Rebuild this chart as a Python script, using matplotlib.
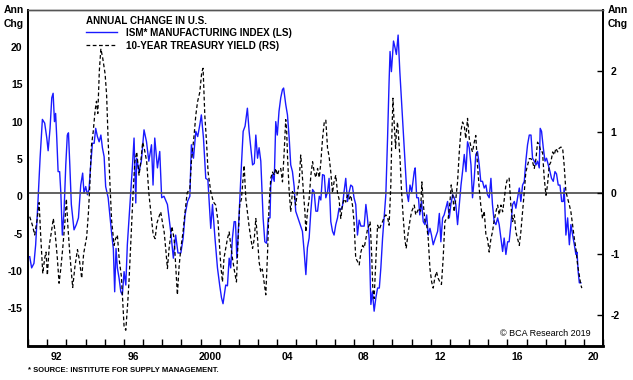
import matplotlib
matplotlib.use("Agg")
import matplotlib.pyplot as plt
from matplotlib.lines import Line2D

plt.rcParams['font.family'] = ['Liberation Sans', 'DejaVu Sans']

# ISM manufacturing index, annual change (left scale)
ism_t = [1991.09, 1991.19, 1991.31, 1991.40, 1991.52, 1991.63, 1991.75, 1991.87, 1991.98, 1992.05,
         1992.15, 1992.24, 1992.31, 1992.38, 1992.44, 1992.50, 1992.57, 1992.65, 1992.71, 1992.79,
         1992.88, 1992.97, 1993.05, 1993.11, 1993.18, 1993.26, 1993.40, 1993.52, 1993.63, 1993.75,
         1993.85, 1993.92, 1994.01, 1994.10, 1994.18, 1994.27, 1994.36, 1994.45, 1994.53, 1994.62,
         1994.71, 1994.80, 1994.88, 1994.97, 1995.05, 1995.11, 1995.18, 1995.28, 1995.37, 1995.45,
         1995.52, 1995.59, 1995.66, 1995.75, 1995.84, 1995.92, 1996.01, 1996.10, 1996.18, 1996.27,
         1996.32, 1996.45, 1996.53, 1996.62, 1996.67, 1996.79, 1996.91, 1997.05, 1997.18, 1997.30,
         1997.44, 1997.52, 1997.61, 1997.75, 1997.87, 1997.97, 1998.09, 1998.27, 1998.44, 1998.58,
         1998.70, 1998.82, 1998.97, 1999.09, 1999.19, 1999.32, 1999.44, 1999.52, 1999.63, 1999.75,
         1999.85, 1999.96, 2000.04, 2000.15, 2000.27, 2000.38, 2000.53, 2000.62, 2000.75, 2000.88,
         2001.00, 2001.09, 2001.17, 2001.31, 2001.40, 2001.49, 2001.57, 2001.66, 2001.75, 2001.82,
         2001.89, 2001.95, 2002.04, 2002.13, 2002.22, 2002.32, 2002.44, 2002.53, 2002.71, 2002.80,
         2002.88, 2002.97, 2003.05, 2003.14, 2003.26, 2003.35, 2003.44, 2003.53, 2003.62, 2003.66,
         2003.75, 2003.84, 2003.92, 2004.00, 2004.09, 2004.18, 2004.27, 2004.33, 2004.44, 2004.53,
         2004.62, 2004.70, 2004.79, 2004.88, 2004.96, 2005.14, 2005.31, 2005.40, 2005.49, 2005.57,
         2005.66, 2005.75, 2005.84, 2005.92, 2006.01, 2006.10, 2006.19, 2006.27, 2006.36, 2006.45,
         2006.53, 2006.62, 2006.70, 2006.79, 2006.88, 2006.96, 2007.05, 2007.14, 2007.22, 2007.31,
         2007.40, 2007.48, 2007.57, 2007.66, 2007.75, 2007.83, 2007.92, 2008.00, 2008.09, 2008.18,
         2008.27, 2008.36, 2008.45, 2008.53, 2008.62, 2008.70, 2008.79, 2008.88, 2008.96, 2009.05,
         2009.14, 2009.23, 2009.32, 2009.40, 2009.49, 2009.57, 2009.66, 2009.75, 2009.83, 2009.88,
         2009.95, 2010.06, 2010.14, 2010.21, 2010.30, 2010.39, 2010.53, 2010.65, 2010.75, 2010.84,
         2010.92, 2011.01, 2011.14, 2011.19, 2011.27, 2011.36, 2011.43, 2011.52, 2011.61, 2011.70,
         2011.79, 2011.87, 2011.96, 2012.04, 2012.13, 2012.24, 2012.36, 2012.45, 2012.53, 2012.62,
         2012.70, 2012.79, 2012.88, 2012.97, 2013.05, 2013.14, 2013.23, 2013.31, 2013.40, 2013.49,
         2013.58, 2013.66, 2013.75, 2013.84, 2013.92, 2014.01, 2014.10, 2014.18, 2014.27, 2014.35,
         2014.44, 2014.53, 2014.61, 2014.70, 2014.79, 2014.88, 2014.96, 2015.05, 2015.14, 2015.22,
         2015.31, 2015.40, 2015.49, 2015.57, 2015.66, 2015.75, 2015.83, 2015.92, 2016.01, 2016.09,
         2016.18, 2016.27, 2016.36, 2016.44, 2016.53, 2016.62, 2016.70, 2016.79, 2016.88, 2016.96,
         2017.05, 2017.14, 2017.23, 2017.31, 2017.40, 2017.49, 2017.57, 2017.66, 2017.71, 2017.78,
         2017.87, 2017.96, 2018.04, 2018.13, 2018.22, 2018.30, 2018.39, 2018.48, 2018.56, 2018.65,
         2018.74, 2018.83, 2018.91, 2018.96, 2019.05, 2019.14, 2019.23, 2019.31, 2019.40, 2019.49,
         2019.57, 2019.63, 2019.69, 2019.75, 2019.83]
ism_v = [-8.1, -9.6, -9.0, -6.5, -0.7, 5.1, 10.3, 9.8, 7.8, 6.1,
         9.1, 13.2, 13.8, 10.0, 11.1, 7.8, 3.3, 3.3, 0.6, -5.2,
         -2.0, 4.2, 8.2, 8.5, 4.2, -1.1, -4.5, -3.8, -2.9, 1.5,
         3.1, 0.4, 1.3, 0.2, 0.9, 4.2, 7.1, 7.1, 9.1, 8.0,
         7.3, 8.2, 6.5, 5.3, 1.3, 0.6, -0.2, -2.9, -5.2, -7.0,
         -12.8, -7.0, -9.6, -11.0, -12.8, -13.2, -10.1, -11.9, -6.5, -2.9,
         -1.1, 4.2, 7.8, -0.9, 5.1, 3.3, 4.7, 8.9, 7.3, 4.7,
         6.9, 1.5, 7.8, 3.8, 6.0, -0.2, 0.0, -1.1, -4.7, -8.3,
         -5.2, -7.6, -7.6, -5.6, -2.5, -0.7, 0.0, 6.9, 5.1, 8.7,
         8.0, 9.6, 10.9, 7.8, 2.4, 2.2, -4.3, -1.1, -5.6, -9.6,
         -12.0, -13.6, -14.4, -11.9, -12.0, -8.3, -9.6, -5.6, -3.4, -3.4,
         -8.3, -5.6, -0.7, 4.2, 8.7, 9.4, 11.8, 8.7, 4.2, 4.4,
         8.2, 5.1, 6.5, 4.7, -2.9, -6.1, -6.3, -2.9, -2.9, 1.5,
         2.9, 2.0, 10.0, 8.2, 11.4, 13.2, 14.3, 14.5, 12.3, 10.9,
         7.8, 4.2, 3.3, 1.3, -2.0, -3.4, -4.7, -7.4, -10.5, -6.9,
         -5.6, -2.0, 0.9, 0.6, -2.0, -2.0, 0.0, -0.5, 2.9, 2.8,
         -0.2, 0.6, 2.4, -3.4, -4.7, -5.2, -3.8, -2.9, -1.6, -1.8,
         -1.3, 0.6, 2.4, -0.7, 0.6, 1.5, 1.3, -0.2, -1.1, -5.2,
         -3.2, -4.0, -4.0, -4.0, -1.1, -2.9, -5.6, -14.5, -12.8, -15.4,
         -13.6, -12.3, -12.3, -9.6, -5.6, -2.9, 0.2, 7.8, 15.4, 19.4,
         16.7, 20.8, 19.9, 19.0, 21.6, 16.7, 10.5, 5.1, 0.6, -0.7,
         1.5, 0.6, 3.3, 3.8, -0.2, -0.2, -2.5, -0.7, -3.4, -3.8,
         -2.5, -5.2, -4.3, -5.2, -6.5, -5.6, -4.7, -2.3, -6.1, -2.9,
         -2.5, -1.6, -0.7, -2.9, -1.1, 0.2, -0.2, -1.1, -3.8, -1.1,
         1.5, 3.3, 5.6, 3.3, 7.3, 6.5, 4.2, -0.2, 2.4, 5.6,
         6.0, 4.2, 2.0, 2.0, 1.1, 1.5, 0.2, -0.2, 2.4, -1.1,
         -3.4, -3.8, -2.9, -3.8, -5.6, -7.4, -5.6, -7.8, -6.1, -6.1,
         -3.8, -1.1, -0.7, -1.6, -0.2, 1.1, -0.7, 1.5, 2.0, 4.7,
         6.9, 8.2, 8.2, 5.1, 4.7, 4.2, 4.7, 3.8, 9.1, 8.7,
         6.5, 4.7, 5.1, 4.2, 3.3, 2.4, 2.0, 3.3, 3.0, 1.5,
         1.5, -0.7, -0.7, 1.1, -5.2, -2.9, -6.5, -3.8, -5.2, -6.5,
         -7.8, -7.5, -10.1, -11.6, -11.6]

# 10-year Treasury yield, annual change (right scale)
yld_t = [1991.09, 1991.23, 1991.35, 1991.47, 1991.58, 1991.66, 1991.77, 1991.87, 1991.94, 1992.01,
         1992.11, 1992.22, 1992.32, 1992.41, 1992.53, 1992.62, 1992.71, 1992.81, 1992.92, 1993.00,
         1993.08, 1993.18, 1993.33, 1993.45, 1993.58, 1993.68, 1993.80, 1993.90, 1994.06, 1994.15,
         1994.22, 1994.30, 1994.40, 1994.50, 1994.57, 1994.64, 1994.72, 1994.80, 1994.90, 1995.02,
         1995.10, 1995.18, 1995.28, 1995.36, 1995.49, 1995.57, 1995.66, 1995.76, 1995.87, 1996.01,
         1996.10, 1996.20, 1996.27, 1996.39, 1996.48, 1996.57, 1996.67, 1996.79, 1996.88, 1996.98,
         1997.08, 1997.19, 1997.30, 1997.44, 1997.53, 1997.63, 1997.72, 1997.82, 1997.92, 1998.02,
         1998.10, 1998.18, 1998.27, 1998.36, 1998.50, 1998.62, 1998.70, 1998.79, 1998.88, 1998.97,
         1999.08, 1999.19, 1999.30, 1999.44, 1999.52, 1999.66, 1999.75, 1999.84, 1999.96, 2000.06,
         2000.13, 2000.22, 2000.31, 2000.39, 2000.53, 2000.67, 2000.79, 2000.91, 2001.05, 2001.14,
         2001.22, 2001.31, 2001.40, 2001.49, 2001.57, 2001.66, 2001.75, 2001.87, 2001.95, 2002.04,
         2002.13, 2002.27, 2002.36, 2002.44, 2002.53, 2002.62, 2002.71, 2002.80, 2002.88, 2002.97,
         2003.05, 2003.14, 2003.22, 2003.31, 2003.40, 2003.49, 2003.57, 2003.66, 2003.75, 2003.84,
         2003.92, 2004.01, 2004.09, 2004.18, 2004.27, 2004.35, 2004.44, 2004.49, 2004.53, 2004.62,
         2004.70, 2004.79, 2004.88, 2004.96, 2005.05, 2005.14, 2005.22, 2005.27, 2005.36, 2005.44,
         2005.49, 2005.57, 2005.66, 2005.75, 2005.84, 2005.92, 2006.01, 2006.10, 2006.19, 2006.27,
         2006.36, 2006.45, 2006.53, 2006.62, 2006.70, 2006.79, 2006.88, 2006.96, 2007.05, 2007.14,
         2007.22, 2007.31, 2007.40, 2007.48, 2007.57, 2007.66, 2007.75, 2007.83, 2007.92, 2008.00,
         2008.09, 2008.18, 2008.27, 2008.36, 2008.45, 2008.53, 2008.62, 2008.70, 2008.79, 2008.84,
         2008.92, 2008.98, 2009.05, 2009.14, 2009.23, 2009.32, 2009.40, 2009.49, 2009.57, 2009.66,
         2009.75, 2009.83, 2009.92, 2009.97, 2010.03, 2010.10, 2010.17, 2010.21, 2010.27, 2010.35,
         2010.40, 2010.48, 2010.57, 2010.65, 2010.72, 2010.81, 2010.91, 2011.00, 2011.08, 2011.14,
         2011.22, 2011.31, 2011.40, 2011.47, 2011.54, 2011.62, 2011.70, 2011.79, 2011.87, 2011.96,
         2012.05, 2012.13, 2012.21, 2012.30, 2012.39, 2012.48, 2012.56, 2012.65, 2012.74, 2012.82,
         2012.91, 2012.99, 2013.07, 2013.14, 2013.22, 2013.31, 2013.40, 2013.49, 2013.57, 2013.66,
         2013.75, 2013.83, 2013.92, 2014.01, 2014.10, 2014.18, 2014.27, 2014.35, 2014.44, 2014.53,
         2014.61, 2014.70, 2014.79, 2014.88, 2014.96, 2015.05, 2015.14, 2015.22, 2015.31, 2015.40,
         2015.49, 2015.57, 2015.66, 2015.75, 2015.83, 2015.92, 2016.01, 2016.09, 2016.18, 2016.27,
         2016.36, 2016.44, 2016.53, 2016.62, 2016.70, 2016.79, 2016.88, 2016.96, 2017.05, 2017.14,
         2017.23, 2017.31, 2017.40, 2017.49, 2017.57, 2017.66, 2017.75, 2017.83, 2017.92, 2018.01,
         2018.09, 2018.18, 2018.27, 2018.36, 2018.44, 2018.53, 2018.62, 2018.70, 2018.79, 2018.88,
         2018.96, 2019.05, 2019.14, 2019.23, 2019.31, 2019.40, 2019.49, 2019.57, 2019.66, 2019.75,
         2019.83, 2019.88]
yld_v = [-0.39, -0.53, -0.69, -0.45, -0.16, -0.69, -1.32, -1.07, -0.97, -1.35,
         -0.86, -0.64, -0.42, -0.64, -1.07, -1.48, -1.24, -0.91, -0.50, -0.10,
         -0.55, -1.00, -1.55, -1.20, -0.93, -1.10, -1.40, -1.00, -0.72, -0.33,
         0.10, 0.75, 1.00, 1.35, 1.50, 1.30, 2.00, 2.36, 2.20, 1.95,
         1.60, 0.85, 0.10, -0.45, -0.86, -0.75, -0.69, -1.10, -1.37, -2.19,
         -2.25, -1.80, -1.43, -0.61, 0.00, 0.51, 0.67, 0.29, 0.50, 0.83,
         0.70, 0.51, 0.00, -0.42, -0.69, -0.75, -0.50, -0.40, -0.31, -0.50,
         -0.64, -0.91, -1.24, -0.90, -0.55, -0.75, -1.18, -1.67, -1.20, -0.91,
         -0.65, -0.31, 0.00, 0.07, 0.51, 0.94, 1.27, 1.49, 1.65, 1.98,
         2.04, 1.27, 0.83, 0.34, 0.02, -0.15, -0.20, -0.47, -1.18, -1.46,
         -1.07, -0.91, -0.75, -0.64, -0.85, -1.07, -1.25, -1.46, -0.80, -0.20,
         -0.10, 0.45, -0.10, -0.31, -0.55, -0.75, -0.91, -0.75, -0.42, -0.75,
         -1.13, -1.30, -1.25, -1.46, -1.67, -1.00, -0.20, 0.24, 0.34, 0.29,
         0.40, 0.29, 0.38, 0.40, 0.18, 0.62, 1.20, 1.00, 0.62, 0.02,
         -0.31, 0.02, -0.04, -0.20, 0.02, 0.18, 0.62, 0.45, 0.02, -0.31,
         -0.64, -0.31, -0.10, 0.29, 0.51, 0.35, 0.25, 0.40, 0.25, 0.50,
         0.89, 1.16, 1.19, 0.73, 0.60, 0.34, 0.00, 0.18, 0.29, 0.00,
         -0.10, -0.42, -0.20, -0.10, -0.15, -0.04, -0.10, -0.04, -0.20, -0.47,
         -1.07, -1.12, -1.18, -0.97, -0.86, -0.90, -0.75, -0.60, -0.53, -0.47,
         -1.00, -1.56, -1.73, -1.10, -0.53, -0.60, -0.53, -0.47, -0.40, -0.36,
         -0.40, -0.53, 0.13, 0.89, 1.55, 1.11, 0.73, 1.00, 1.16, 0.80,
         0.56, 0.02, -0.42, -0.75, -0.91, -0.69, -0.47, -0.31, -0.25, -0.20,
         -0.36, -0.30, -0.25, -0.30, 0.18, -0.20, -0.47, -0.53, -0.75, -1.24,
         -1.46, -1.56, -1.40, -1.29, -1.40, -1.46, -1.50, -1.07, -0.47, -0.42,
         -0.42, -0.20, 0.13, 0.00, -0.31, -0.10, 0.18, 0.67, 1.00, 1.16,
         1.10, 0.89, 1.22, 0.89, 0.75, 0.67, 0.83, 0.94, 0.45, 0.07,
         -0.20, -0.42, -0.30, -0.69, -0.75, -0.97, -0.75, -0.64, -0.45, -0.31,
         -0.20, -0.36, -0.20, -0.31, -0.12, 0.13, 0.24, 0.24, -0.20, -0.47,
         -0.36, -0.64, -0.75, -0.86, -0.64, -0.31, 0.02, 0.34, 0.45, 0.56,
         0.56, 0.51, 0.40, 0.56, 0.83, 0.78, 0.67, 0.67, 0.24, -0.04,
         0.13, 0.45, 0.51, 0.67, 0.62, 0.73, 0.67, 0.73, 0.75, 0.73,
         0.45, 0.02, -0.09, -0.20, -0.31, -0.53, -0.75, -0.91, -1.18, -1.35,
         -1.51, -1.56]

year_ticks = list(range(1991, 2022))
label_years = [1992, 1996, 2000, 2004, 2008, 2012, 2016, 2020]
label_text = ['92', '96', '2000', '04', '08', '12', '16', '20']
left_ticks = [-15, -10, -5, 0, 5, 10, 15, 20]
right_ticks = [-2, -1, 0, 1, 2]

W, H = 633, 380
fig = plt.figure(figsize=(W / 100, H / 100), dpi=100)


def fx(px):
    return px / W


def fy(py):
    return 1 - py / H


ax = fig.add_axes([fx(28), fy(345.5), fx(603.3) - fx(28), fy(9.7) - fy(345.5)])
ax2 = ax.twinx()

ax.plot(ism_t, ism_v, color='#1a1aff', lw=1.0, zorder=3)
ax2.axhline(0, color='#555555', lw=1.3, zorder=1)
ax2.plot(yld_t, yld_v, color='black', lw=0.9, linestyle=(0, (3, 2)), zorder=3)

ax.set_xlim(1991, 2021)
ax.set_ylim(-20, 25)
ax2.set_ylim(-2.5, 3.0)

bold = dict(fontweight='bold', fontsize=7.5)
legend_font = dict(fontweight='bold', fontsize=7.1)

ax.set_yticks(left_ticks)
ax.set_yticklabels([str(v) for v in left_ticks], **bold)
ax.tick_params(axis='y', length=0, pad=4)

ax2.set_yticks(right_ticks)
ax2.set_yticklabels([str(v) for v in right_ticks], **bold)
ax2.tick_params(axis='y', direction='in', length=4, width=1, pad=5, colors='black')

ax.set_xticks(year_ticks)
ax.set_xticklabels([])
ax.tick_params(axis='x', which='major', direction='in', length=5, width=1)
ax.set_xticks([y + 0.5 for y in label_years], minor=True)
ax.set_xticklabels(label_text, minor=True, **bold)
ax.tick_params(axis='x', which='minor', length=0, pad=5)

for a in (ax, ax2):
    a.spines['top'].set_color('#555555')
    a.spines['top'].set_linewidth(1.0)
    a.spines['bottom'].set_linewidth(1.8)
    a.spines['left'].set_linewidth(1.3)
    a.spines['right'].set_linewidth(1.3)

# legend block
fig.add_artist(Line2D([fx(86), fx(117)], [fy(32), fy(32)], color='#1a1aff', lw=1.0))
fig.add_artist(Line2D([fx(86), fx(117)], [fy(44.5), fy(44.5)], color='black', lw=0.9,
                      linestyle=(0, (3, 2))))
fig.text(fx(86), fy(20.5), 'ANNUAL CHANGE IN U.S.', va='center', ha='left', **legend_font)
fig.text(fx(126), fy(33), 'ISM* MANUFACTURING INDEX (LS)', va='center', ha='left', **legend_font)
fig.text(fx(126), fy(46), '10-YEAR TREASURY YIELD (RS)', va='center', ha='left', **legend_font)

fig.text(fx(4), fy(10), 'Ann', va='center', ha='left', **bold)
fig.text(fx(4), fy(24), 'Chg', va='center', ha='left', **bold)
fig.text(fx(608), fy(10), 'Ann', va='center', ha='left', **bold)
fig.text(fx(608), fy(24), 'Chg', va='center', ha='left', **bold)

fig.text(fx(591), fy(333), '\u00a9 BCA Research 2019', va='center', ha='right', fontsize=6.5)
fig.text(fx(28), fy(371), '* SOURCE: INSTITUTE FOR SUPPLY MANAGEMENT.', va='center', ha='left',
         fontsize=5.5, fontweight='bold')

fig.savefig('out.png', dpi=100)
